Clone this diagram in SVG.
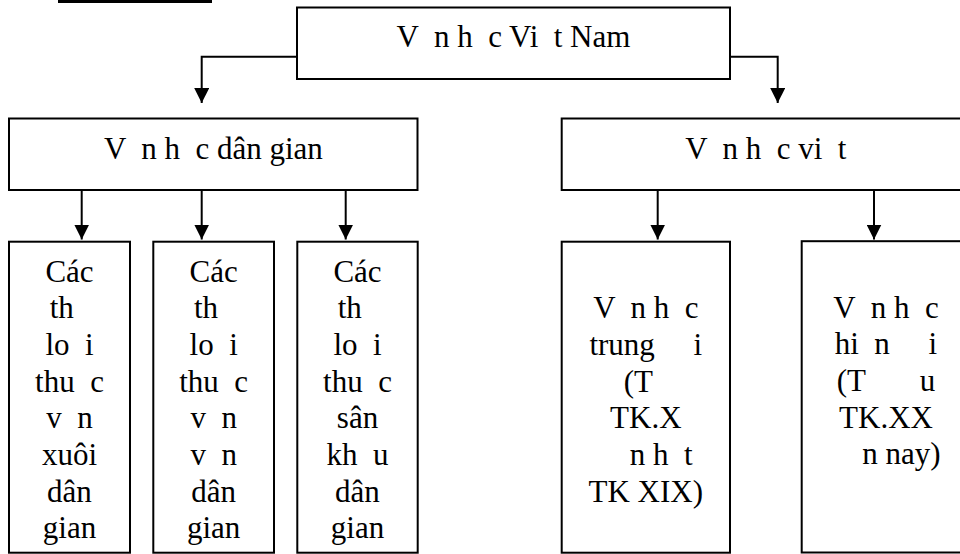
<svg xmlns="http://www.w3.org/2000/svg" width="960" height="554" viewBox="0 0 960 554">
  <style>
    .box { fill: #ffffff; stroke: #000000; stroke-width: 2; }
    .link { fill: none; stroke: #000000; stroke-width: 2; }
    text { font-family: "Liberation Serif", "Times New Roman", serif; font-size: 31px; fill: #000000; white-space: pre; text-anchor: middle; }
  </style>
  <defs>
    <marker id="arrow" markerUnits="userSpaceOnUse" markerWidth="15" markerHeight="15" refX="15" refY="7.5" orient="auto">
      <path d="M0,0 L15,7.5 L0,15 Z" fill="#000000"/>
    </marker>
  </defs>

  <rect x="58" y="0" width="154" height="3" fill="#000000"/>

  <g id="connectors">
    <path class="link" d="M297,56.7 H201.7 V103" marker-end="url(#arrow)"/>
    <path class="link" d="M730,56.7 H777.7 V103" marker-end="url(#arrow)"/>
    <path class="link" d="M81.7,190 V239.5" marker-end="url(#arrow)"/>
    <path class="link" d="M201.7,190 V239.5" marker-end="url(#arrow)"/>
    <path class="link" d="M345.7,190 V239.5" marker-end="url(#arrow)"/>
    <path class="link" d="M657.7,190 V239.5" marker-end="url(#arrow)"/>
    <path class="link" d="M874,190 V239.5" marker-end="url(#arrow)"/>
  </g>

  <g id="root">
    <rect class="box" x="297" y="7.5" width="433" height="71.5"/>
    <text x="513.5" y="47.3" xml:space="preserve">V  n h  c Vi  t Nam</text>
  </g>

  <g id="folk">
    <rect class="box" x="9" y="118.5" width="408.5" height="71.5"/>
    <text x="213.4" y="159.3" xml:space="preserve">V  n h  c dân gian</text>
  </g>

  <g id="written">
    <rect class="box" x="561.7" y="118.5" width="410" height="71.5"/>
    <text x="765.8" y="159.3" xml:space="preserve">V  n h  c vi  t</text>
  </g>

  <g id="folk-prose">
    <rect class="box" x="9" y="241.7" width="121" height="311"/>
    <text x="69.5" y="281.7">Các</text>
    <text x="69.5" y="318.3" xml:space="preserve">th  </text>
    <text x="69.5" y="355" xml:space="preserve">lo  i</text>
    <text x="69.5" y="391.7" xml:space="preserve">thu  c</text>
    <text x="69.5" y="428.3" xml:space="preserve">v  n</text>
    <text x="69.5" y="465">xuôi</text>
    <text x="69.5" y="501.7">dân</text>
    <text x="69.5" y="538.3">gian</text>
  </g>

  <g id="folk-verse">
    <rect class="box" x="153.3" y="241.7" width="120.7" height="311"/>
    <text x="213.7" y="281.7">Các</text>
    <text x="213.7" y="318.3" xml:space="preserve">th  </text>
    <text x="213.7" y="355" xml:space="preserve">lo  i</text>
    <text x="213.7" y="391.7" xml:space="preserve">thu  c</text>
    <text x="213.7" y="428.3" xml:space="preserve">v  n</text>
    <text x="213.7" y="465" xml:space="preserve">v  n</text>
    <text x="213.7" y="501.7">dân</text>
    <text x="213.7" y="538.3">gian</text>
  </g>

  <g id="folk-stage">
    <rect class="box" x="297.3" y="241.7" width="120.4" height="311"/>
    <text x="357.5" y="281.7">Các</text>
    <text x="357.5" y="318.3" xml:space="preserve">th  </text>
    <text x="357.5" y="355" xml:space="preserve">lo  i</text>
    <text x="357.5" y="391.7" xml:space="preserve">thu  c</text>
    <text x="357.5" y="428.3">sân</text>
    <text x="357.5" y="465" xml:space="preserve">kh  u</text>
    <text x="357.5" y="501.7">dân</text>
    <text x="357.5" y="538.3">gian</text>
  </g>

  <g id="medieval">
    <rect class="box" x="561.7" y="241.7" width="168.3" height="311"/>
    <text x="645.8" y="318.3" xml:space="preserve">V  n h  c</text>
    <text x="645.8" y="355" xml:space="preserve">trung     i</text>
    <text x="645.8" y="391.7" xml:space="preserve">(T  </text>
    <text x="645.8" y="428.3">TK.X</text>
    <text x="645.8" y="465" xml:space="preserve">    n h  t</text>
    <text x="645.8" y="501.7">TK XIX)</text>
  </g>

  <g id="modern">
    <rect class="box" x="801.7" y="241.2" width="170" height="311.3"/>
    <text x="886" y="317.7" xml:space="preserve">V  n h  c</text>
    <text x="886" y="354.3" xml:space="preserve">hi  n     i</text>
    <text x="886" y="391" xml:space="preserve">(T       u</text>
    <text x="886" y="427.7">TK.XX</text>
    <text x="886" y="464.3" xml:space="preserve">    n nay)</text>
  </g>
</svg>
